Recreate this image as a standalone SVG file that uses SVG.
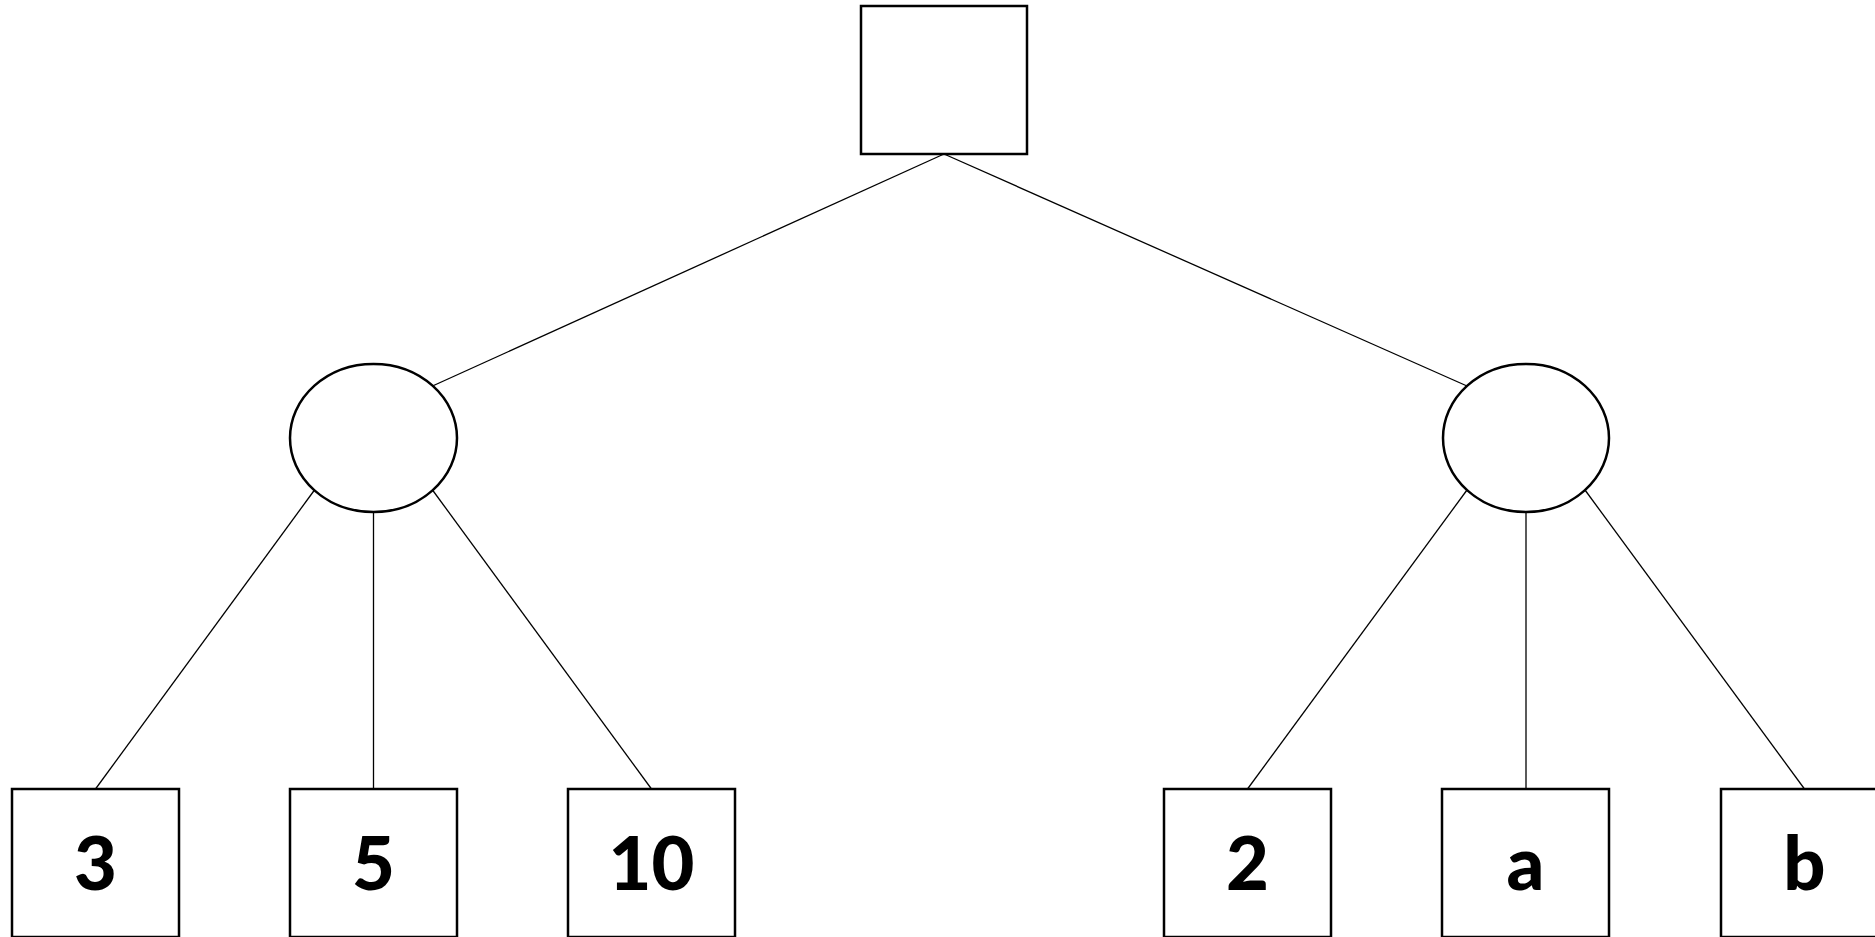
<svg xmlns="http://www.w3.org/2000/svg" width="1875" height="937" viewBox="0 0 1875 937">
<style>
.n{fill:#fff;stroke:#000;stroke-width:2.5}
.e line{stroke:#000;stroke-width:1.3}
.t{font-family:Lato,"Liberation Sans",sans-serif;font-weight:900;font-size:74px;text-anchor:middle;fill:#000}
</style>
<rect width="1875" height="937" fill="#fff"/>
<g id="connectors" class="e">
<line x1="944" y1="154" x2="432.5" y2="386"/>
<line x1="944" y1="154" x2="1467" y2="386"/>
<line x1="314.5" y1="490" x2="95.5" y2="789"/>
<line x1="373.5" y1="512" x2="373.5" y2="789"/>
<line x1="432.5" y1="490" x2="651.5" y2="789"/>
<line x1="1467" y1="490" x2="1247.5" y2="789"/>
<line x1="1526" y1="512" x2="1526" y2="789"/>
<line x1="1585" y1="490" x2="1804.5" y2="789"/>
</g>
<g id="root"><rect class="n" x="861" y="6" width="166" height="148"/></g>
<g id="left"><ellipse class="n" cx="373.5" cy="438" rx="83.5" ry="74"/></g>
<g id="right"><ellipse class="n" cx="1526" cy="438" rx="83" ry="74"/></g>
<g id="n3"><rect class="n" x="12" y="789" width="167" height="148"/><text class="t" x="95.5" y="890">3</text></g>
<g id="n5"><rect class="n" x="290" y="789" width="167" height="148"/><text class="t" x="373.5" y="890">5</text></g>
<g id="n10"><rect class="n" x="568" y="789" width="167" height="148"/><text class="t" x="651.5" y="890">10</text></g>
<g id="n2"><rect class="n" x="1164" y="789" width="167" height="148"/><text class="t" x="1247.5" y="890">2</text></g>
<g id="na"><rect class="n" x="1442" y="789" width="167" height="148"/><text class="t" x="1525.5" y="890">a</text></g>
<g id="nb"><rect class="n" x="1721" y="789" width="167" height="148"/><text class="t" x="1804.5" y="890">b</text></g>
</svg>
